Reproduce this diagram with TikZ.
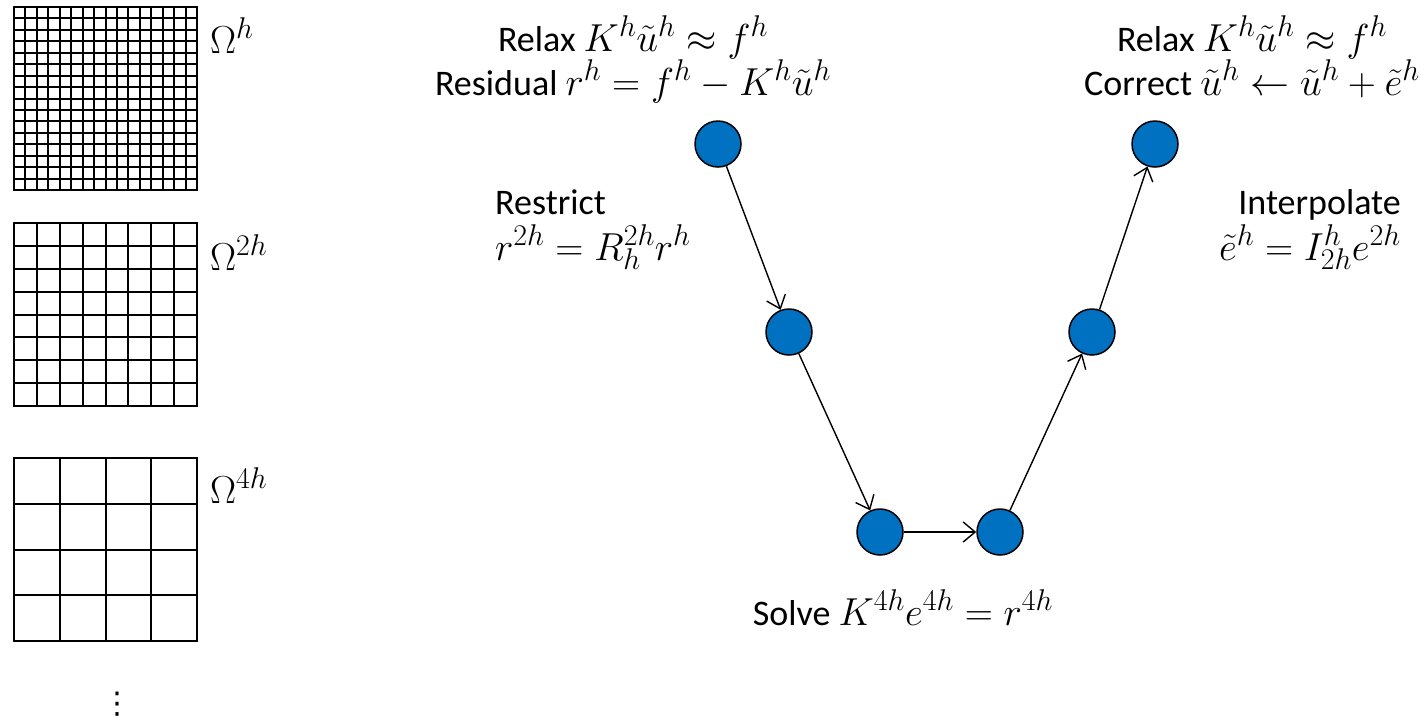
\RequirePackage{fix-cm}
\documentclass[tikz,border=0pt]{standalone}
\usepackage{fontspec}
\setmainfont{Carlito}
\newfontfamily\dejavu{DejaVu Sans}
\DeclareMathSizes{36}{39}{30}{24}
\usetikzlibrary{arrows.meta}
\definecolor{vblue}{RGB}{0,112,192}
\tikzset{
  vnode/.style={circle, draw=black, line width=1.5pt, fill=vblue, minimum size=46pt, inner sep=0pt},
  conn/.style={line width=1.4pt, -{Straight Barb[length=12pt,width=20pt,line width=1.4pt]}},
  lbl/.style={inner sep=0pt, font=\fontsize{36}{44}\selectfont},
  lbltall/.style={inner sep=0pt, font=\fontsize{36}{46}\selectfont},
  gridline/.style={line width=2pt, line cap=rect},
}
\begin{document}
\begin{tikzpicture}[x=1pt,y=-1pt]
\useasboundingbox (0,0) rectangle (1424,721);
% grids
\foreach \i in {0,...,16} {
  \draw[gridline] ({round(14+\i*11.4375)},7) -- ({round(14+\i*11.4375)},190);
  \draw[gridline] (14,{round(7+\i*11.4375)}) -- (197,{round(7+\i*11.4375)});
}
\foreach \i in {0,...,8} {
  \draw[gridline] ({round(14+\i*22.875)},223) -- ({round(14+\i*22.875)},406);
  \draw[gridline] (14,{round(223+\i*22.875)}) -- (197,{round(223+\i*22.875)});
}
\foreach \i in {0,...,4} {
  \draw[gridline] ({round(14+\i*45.75)},458) -- ({round(14+\i*45.75)},641);
  \draw[gridline] (14,{round(458+\i*45.75)}) -- (197,{round(458+\i*45.75)});
}
\node[lbl, anchor=base west] (o1) at (210,53) {$\Omega^h$};
\node[lbl, anchor=base west] (o2) at (210,270) {$\Omega^{2h}$};
\node[lbl, anchor=base west] (o4) at (210,503) {$\Omega^{4h}$};
\node[inner sep=0pt, font=\fontsize{30}{30}\dejavu] (dots) at (117,704) {⋮};
% V-cycle nodes
\node[vnode] (v1) at (718,144) {};
\node[vnode] (v2) at (789,332) {};
\node[vnode] (v3) at (880,532) {};
\node[vnode] (v4) at (1000,532) {};
\node[vnode] (v5) at (1092,332) {};
\node[vnode] (v6) at (1155,144) {};
\draw[conn] (v1) -- (v2);
\draw[conn] (v2) -- (v3);
\draw[conn] (v3) -- (v4);
\draw[conn] (v4) -- (v5);
\draw[conn] (v5) -- (v6);
% labels
\node[lbl, align=center, anchor=base] (tl) at (633,95) {Relax $K^h\tilde{u}^h \approx f^h$\\Residual $r^h = f^h - K^h\tilde{u}^h$};
\node[lbl, align=center, anchor=base] (tr) at (1252,95) {Relax $K^h\tilde{u}^h \approx f^h$\\Correct $\tilde{u}^h \leftarrow \tilde{u}^h + \tilde{e}^h$};
\node[lbltall, align=left, anchor=base west] (rs) at (495,260) {Restrict\\$r^{2h} = R_h^{2h} r^h$};
\node[lbltall, align=right, anchor=base east] (ip) at (1401,260) {Interpolate\\$\tilde{e}^h = I_{2h}^{h} e^{2h}$};
\node[lbl, anchor=base] (sv) at (903,625) {Solve $K^{4h}e^{4h} = r^{4h}$};
\end{tikzpicture}
\end{document}
